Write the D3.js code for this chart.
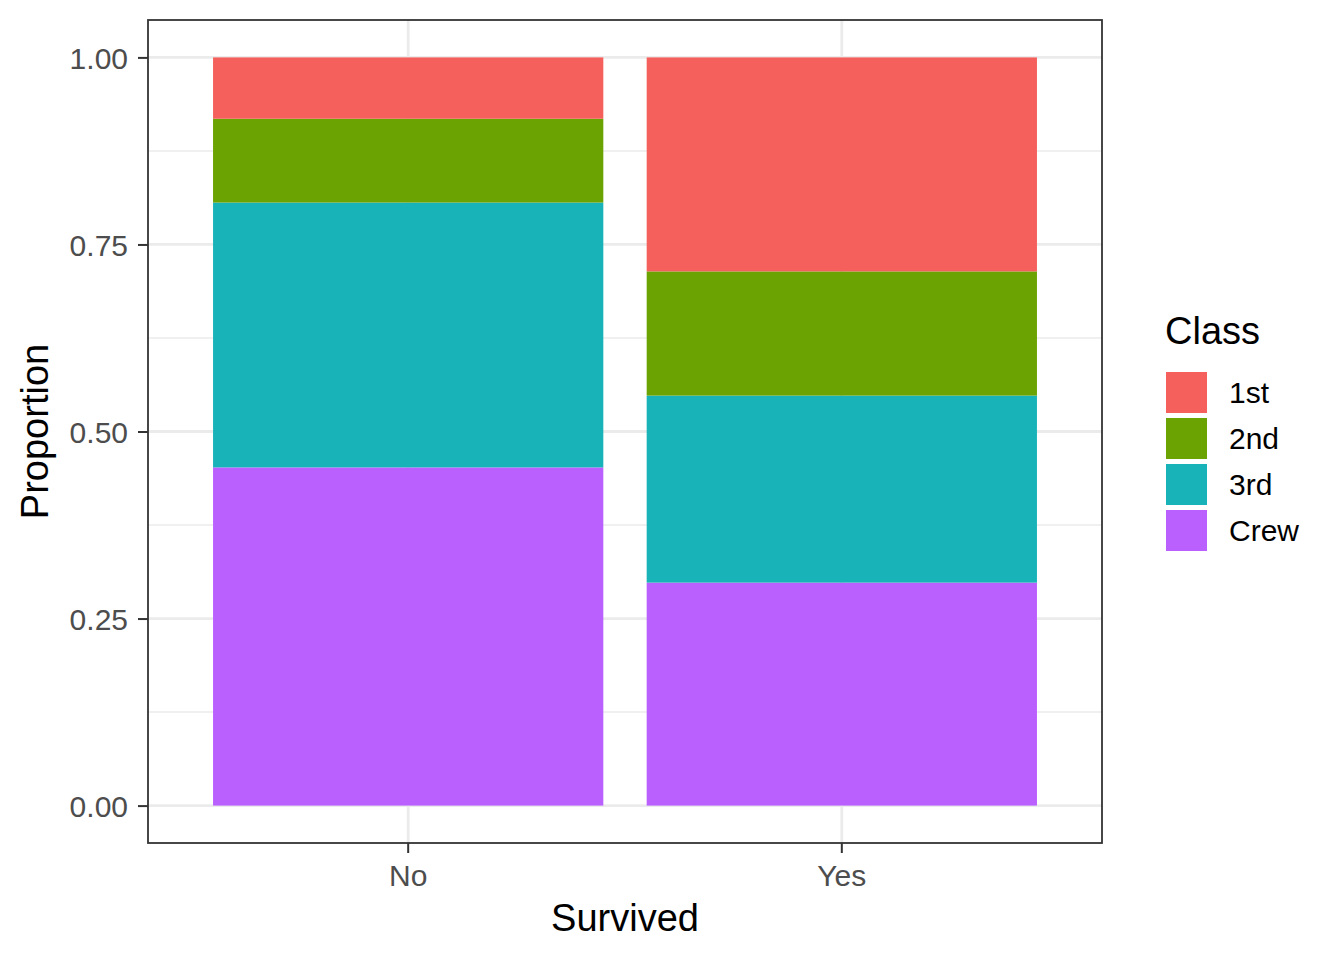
<!DOCTYPE html>
<html>
<head>
<meta charset="utf-8">
<script src="https://cdn.jsdelivr.net/npm/d3@7"></script>
<style>
  body { margin: 0; background: #fff; }
  text { font-family: "Liberation Sans", Arial, sans-serif; }
</style>
</head>
<body>
<svg id="chart" width="1344" height="960"></svg>
<script>
// proportions, stacked bottom -> top (Crew, 3rd, 2nd, 1st)
var survived = ['No', 'Yes'];
var classes = ['1st', '2nd', '3rd', 'Crew'];
var first = [0.082, 0.286];
var second = [0.112, 0.166];
var third = [0.354, 0.250];
var crew = [0.452, 0.298];
var yTicks = [0, 0.25, 0.5, 0.75, 1];
var yMinor = [0.125, 0.375, 0.625, 0.875];
var colors = ['#F5605C', '#6BA303', '#18B2B9', '#B960FF'];

var rows = survived.map((s, i) => ({
  Survived: s, '1st': first[i], '2nd': second[i], '3rd': third[i], 'Crew': crew[i]
}));

var svg = d3.select('#chart');

var panel = { left: 148, right: 1102, top: 20, bottom: 843 };

var xScale = d3.scaleBand()
  .domain(survived)
  .range([panel.left, panel.right])
  .paddingInner(0.1)
  .paddingOuter(0.15);

var yScale = d3.scaleLinear()
  .domain([-0.05, 1.05])
  .range([panel.bottom, panel.top]);

var color = d3.scaleOrdinal().domain(classes).range(colors);

// stack order: Crew at bottom, 1st on top
var stack = d3.stack().keys(classes.slice().reverse());
var layers = stack(rows);

// grid
var grid = svg.append('g');
grid.selectAll('.minor')
  .data(yMinor)
  .enter().append('line')
  .attr('x1', panel.left).attr('x2', panel.right)
  .attr('y1', d => yScale(d)).attr('y2', d => yScale(d))
  .attr('stroke', '#EBEBEB').attr('stroke-width', 1.4);
grid.selectAll('.major')
  .data(yTicks)
  .enter().append('line')
  .attr('x1', panel.left).attr('x2', panel.right)
  .attr('y1', d => yScale(d)).attr('y2', d => yScale(d))
  .attr('stroke', '#EBEBEB').attr('stroke-width', 2.8);
grid.selectAll('.xmajor')
  .data(survived)
  .enter().append('line')
  .attr('x1', d => xScale(d) + xScale.bandwidth() / 2)
  .attr('x2', d => xScale(d) + xScale.bandwidth() / 2)
  .attr('y1', panel.top).attr('y2', panel.bottom)
  .attr('stroke', '#EBEBEB').attr('stroke-width', 2.8);

// bars
svg.append('g')
  .selectAll('g')
  .data(layers)
  .enter().append('g')
  .attr('fill', d => color(d.key))
  .selectAll('rect')
  .data(d => d)
  .enter().append('rect')
  .attr('x', d => xScale(d.data.Survived))
  .attr('width', xScale.bandwidth())
  .attr('y', d => yScale(d[1]))
  .attr('height', d => yScale(d[0]) - yScale(d[1]));

// panel border
svg.append('rect')
  .attr('x', panel.left).attr('y', panel.top)
  .attr('width', panel.right - panel.left)
  .attr('height', panel.bottom - panel.top)
  .attr('fill', 'none')
  .attr('stroke', '#333333')
  .attr('stroke-width', 1.8);

// axes
var yAxis = svg.append('g')
  .attr('transform', `translate(${panel.left}, 0)`)
  .call(d3.axisLeft(yScale).tickValues(yTicks).tickFormat(d3.format('.2f')).tickSize(10).tickPadding(10));

var xAxis = svg.append('g')
  .attr('transform', `translate(0, ${panel.bottom})`)
  .call(d3.axisBottom(xScale).tickSize(10).tickPadding(10));

[yAxis, xAxis].forEach(a => {
  a.select('.domain').remove();
  a.selectAll('.tick line').attr('stroke', '#333333').attr('stroke-width', 2);
  a.selectAll('.tick text')
    .attr('fill', '#4D4D4D')
    .style('font-size', '30px')
    .style('font-family', '"Liberation Sans", Arial, sans-serif');
});
yAxis.selectAll('.tick text').attr('dy', '0.36em');
xAxis.selectAll('.tick text').attr('dy', '0.78em');

// axis titles
svg.append('text')
  .attr('x', (panel.left + panel.right) / 2)
  .attr('y', 931)
  .attr('text-anchor', 'middle')
  .style('font-size', '38px')
  .text('Survived');

svg.append('text')
  .attr('transform', `translate(48, ${(panel.top + panel.bottom) / 2}) rotate(-90)`)
  .attr('text-anchor', 'middle')
  .style('font-size', '38px')
  .text('Proportion');

// legend
var legend = svg.append('g').attr('transform', 'translate(1165, 0)');
legend.append('text')
  .attr('x', 0).attr('y', 344)
  .style('font-size', '38px')
  .text('Class');

var items = legend.selectAll('.item')
  .data(classes)
  .enter().append('g')
  .attr('transform', (d, i) => `translate(0, ${370 + i * 46})`);

items.append('rect')
  .attr('x', 1).attr('y', 2)
  .attr('width', 41).attr('height', 41)
  .attr('fill', d => color(d));

items.append('text')
  .attr('x', 64).attr('y', 22.5)
  .attr('dy', '0.36em')
  .style('font-size', '30px')
  .text(d => d);
</script>
</body>
</html>
